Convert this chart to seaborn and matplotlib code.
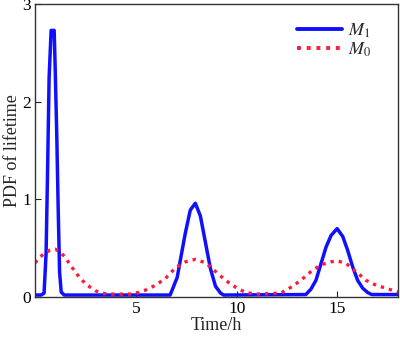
import matplotlib
matplotlib.use("Agg")
import matplotlib.pyplot as plt
import seaborn as sns
import pandas as pd

# Data
m1_time = [0, 0.3, 0.45, 0.55, 0.62, 0.7, 0.8, 0.95, 1.0, 1.08, 1.15, 1.22, 1.3, 1.45,
           6.7, 7.05, 7.2, 7.45, 7.7, 7.95, 8.2, 8.45, 8.7, 8.95, 9.2, 9.35,
           13.43, 13.68, 13.93, 14.18, 14.43, 14.68, 14.98, 15.26, 15.5, 15.75, 16.0,
           16.25, 16.5, 16.7, 18]
m1_pdf = [0.02, 0.02, 0.04, 0.45, 1.25, 2.25, 2.73, 2.73, 2.35, 1.65, 0.9, 0.25, 0.05, 0.02,
          0.02, 0.2, 0.37, 0.65, 0.89, 0.96, 0.83, 0.56, 0.29, 0.11, 0.04, 0.02,
          0.025, 0.08, 0.17, 0.34, 0.51, 0.63, 0.70, 0.62, 0.48, 0.31, 0.17,
          0.09, 0.045, 0.025, 0.025]

m0_time = [0, 0.25, 0.5, 0.75, 1.0, 1.24, 1.49, 1.74, 1.99, 2.24, 2.49, 2.74, 2.99, 3.23, 3.57,
           4.9, 5.47, 5.97, 6.47, 6.97, 7.46, 7.96, 8.46, 8.96, 9.45, 9.95, 10.45, 10.95,
           12.19, 12.69, 13.18, 13.68, 14.18, 14.68, 14.98, 15.42, 15.92, 16.42, 16.92,
           17.41, 17.91, 18]
m0_pdf = [0.35, 0.41, 0.45, 0.48, 0.49, 0.46, 0.41, 0.33, 0.26, 0.19, 0.14, 0.10, 0.065, 0.045, 0.03,
          0.03, 0.07, 0.12, 0.19, 0.30, 0.36, 0.386, 0.35, 0.26, 0.17, 0.10, 0.045, 0.03,
          0.04, 0.10, 0.17, 0.26, 0.33, 0.36, 0.37, 0.345, 0.26, 0.17, 0.12,
          0.09, 0.055, 0.05]

series_labels = ["$M_1$", "$M_0$"]
x_ticks = [5, 10, 15]
y_ticks = [0, 1, 2, 3]

sns.set_theme(style="ticks")
plt.rcParams["font.family"] = ["Liberation Serif", "DejaVu Serif"]
plt.rcParams["mathtext.fontset"] = "stix"

df1 = pd.DataFrame({"t": m1_time, "p": m1_pdf})
df0 = pd.DataFrame({"t": m0_time, "p": m0_pdf})

fig = plt.figure(figsize=(4.0, 3.37), dpi=100)
ax = fig.add_axes([0.0875, 0.1187, 0.9075, 0.8693])

sns.lineplot(data=df1, x="t", y="p", ax=ax, color="#1010ff", linewidth=2.5,
             sort=False, estimator=None, label=series_labels[0])
sns.lineplot(data=df0, x="t", y="p", ax=ax, color="#ff1a3c", linewidth=2.4,
             sort=False, estimator=None, label=series_labels[1])
ax.lines[1].set_linestyle((0, (1, 1.5)))

ax.set_xlim(0, 18)
ax.set_ylim(0, 3)
ax.set_xticks(x_ticks)
ax.set_yticks(y_ticks)
ax.tick_params(direction="in", length=4, width=0.8, labelsize=12.5, pad=3, colors="#222222")
ax.tick_params(labelcolor="black")
for s in ax.spines.values():
    s.set_color("#333333")
    s.set_linewidth(1.0)

ax.set_xlabel("Time/h", fontsize=13, labelpad=0)
ax.set_ylabel("PDF of lifetime", fontsize=13, labelpad=1)

leg = ax.legend(loc="upper right", bbox_to_anchor=(0.955, 0.978), frameon=False,
                fontsize=13, handlelength=2.5, handletextpad=0.3, labelspacing=0.05,
                borderaxespad=0.2)
for h in leg.get_lines():
    h.set_linewidth(2.8)

fig.savefig("out.png", dpi=100)
